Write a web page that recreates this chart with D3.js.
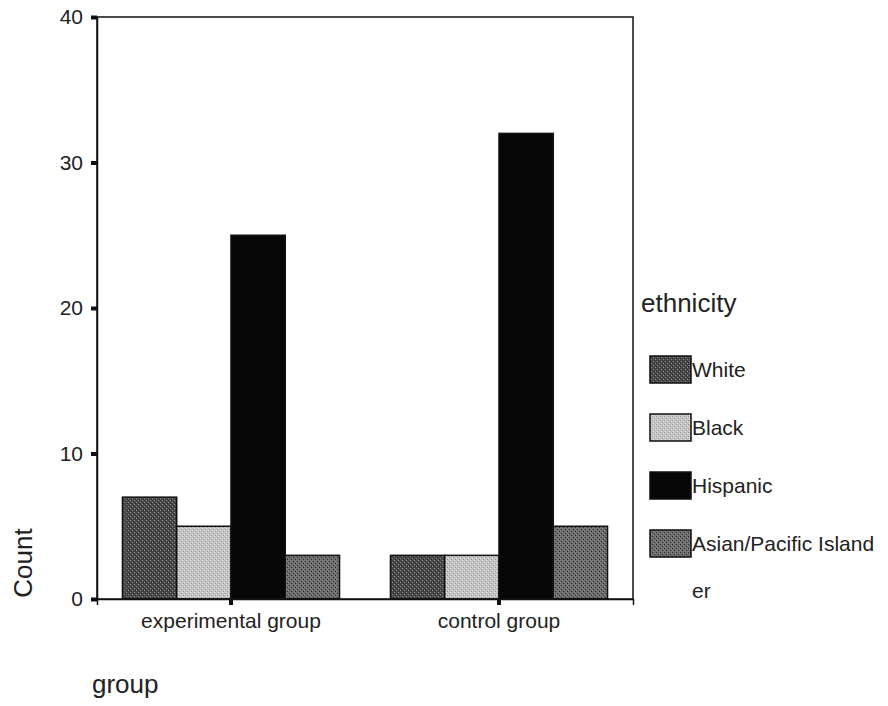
<!DOCTYPE html>
<html>
<head>
<meta charset="utf-8">
<script src="https://cdn.jsdelivr.net/npm/d3@7"></script>
<style>
  body { margin: 0; background: #fff; }
  svg { font-family: "Liberation Sans", Arial, sans-serif; }
</style>
</head>
<body>
<div id="vis"></div>
<script>
// chart size
const FRAME_WIDTH = 888;
const FRAME_HEIGHT = 706;
const MARGINS = {left: 97, right: 255, top: 17, bottom: 107};

const VIS_WIDTH = FRAME_WIDTH - MARGINS.left - MARGINS.right;
const VIS_HEIGHT = FRAME_HEIGHT - MARGINS.top - MARGINS.bottom;

// data
const GROUPS = ["experimental group", "control group"];
const ETHNICITIES = ["White", "Black", "Hispanic", "Asian/Pacific Islander"];
const WHITE = [7, 3];
const BLACK = [5, 3];
const HISPANIC = [25, 32];
const ASIAN = [3, 5];
const Y_TICKS = [0, 10, 20, 30, 40];

const SERIES = [WHITE, BLACK, HISPANIC, ASIAN];
const FILLS = ["#4a4a4a", "#c4c4c4", "#060606", "#6e6e6e"];

const FRAME = d3.select("#vis")
                .append("svg")
                  .attr("width", FRAME_WIDTH)
                  .attr("height", FRAME_HEIGHT);

// stipple textures like the old SPSS print
const defs = FRAME.append("defs");
FILLS.forEach((c, i) => {
  const p = defs.append("pattern")
      .attr("id", "pat" + i)
      .attr("width", 4).attr("height", 4)
      .attr("patternUnits", "userSpaceOnUse");
  p.append("rect").attr("width", 4).attr("height", 4).attr("fill", c);
  const dot = i === 1 ? "#999" : (i === 2 ? "#000" : "#2a2a2a");
  const lite = i === 1 ? "#e2e2e2" : (i === 2 ? "#111" : "#8a8a8a");
  p.append("rect").attr("x", 0).attr("y", 0).attr("width", 1).attr("height", 1).attr("fill", dot);
  p.append("rect").attr("x", 2).attr("y", 2).attr("width", 1).attr("height", 1).attr("fill", dot);
  p.append("rect").attr("x", 1).attr("y", 3).attr("width", 1).attr("height", 1).attr("fill", lite);
  p.append("rect").attr("x", 3).attr("y", 1).attr("width", 1).attr("height", 1).attr("fill", lite);
});

const X_SCALE = d3.scaleBand()
                  .domain(GROUPS)
                  .range([0, VIS_WIDTH])
                  .paddingInner(0.19)
                  .paddingOuter(0.095);

const X_SUB = d3.scaleBand()
                .domain(d3.range(ETHNICITIES.length))
                .range([0, X_SCALE.bandwidth()]);

const Y_SCALE = d3.scaleLinear()
                  .domain([0, 40])
                  .range([VIS_HEIGHT, 0]);

const G = FRAME.append("g")
    .attr("transform", "translate(" + MARGINS.left + "," + MARGINS.top + ")");

// bars
SERIES.forEach((vals, s) => {
  G.selectAll(".bar" + s)
    .data(vals)
    .enter()
    .append("rect")
      .attr("class", "bar" + s)
      .attr("x", (d, i) => X_SCALE(GROUPS[i]) + X_SUB(s))
      .attr("y", (d) => Y_SCALE(d))
      .attr("width", X_SUB.bandwidth())
      .attr("height", (d) => VIS_HEIGHT - Y_SCALE(d))
      .attr("fill", "url(#pat" + s + ")")
      .attr("stroke", "#111")
      .attr("stroke-width", 1.5);
});

// frame box
G.append("rect")
    .attr("width", VIS_WIDTH)
    .attr("height", VIS_HEIGHT)
    .attr("fill", "none")
    .attr("stroke", "#111")
    .attr("stroke-width", 1.5);

// y axis
const yAxis = G.append("g")
    .attr("font-size", 21)
    .attr("font-family", "Liberation Sans, Arial, sans-serif")
    .call(d3.axisLeft(Y_SCALE).tickValues(Y_TICKS).tickSize(6).tickPadding(8));
yAxis.attr("font-size", 21).attr("font-family", "Liberation Sans, Arial, sans-serif");
yAxis.select(".domain").attr("stroke", "#111").attr("stroke-width", 1.5);
yAxis.selectAll(".tick line").attr("stroke", "#111").attr("stroke-width", 4);
yAxis.selectAll(".tick text").attr("fill", "#222");

// x axis
const xAxis = G.append("g")
    .attr("transform", "translate(0," + VIS_HEIGHT + ")")
    .call(d3.axisBottom(X_SCALE).tickSize(6).tickPadding(8));
xAxis.attr("font-size", 21).attr("font-family", "Liberation Sans, Arial, sans-serif");
xAxis.select(".domain").attr("stroke", "#111").attr("stroke-width", 1.5);
xAxis.selectAll(".tick line").attr("stroke", "#111").attr("stroke-width", 4);
xAxis.selectAll(".tick text").attr("fill", "#222");

// axis titles
FRAME.append("text")
    .attr("transform", "translate(32,563) rotate(-90)")
    .attr("text-anchor", "middle")
    .attr("font-size", "26px")
    .attr("fill", "#222")
    .text("Count");

FRAME.append("text")
    .attr("x", 92)
    .attr("y", 693)
    .attr("font-size", "26px")
    .attr("fill", "#222")
    .text("group");

// legend
const LEG_X = 650;
const LEG_Y = 356;
const LEG_STEP = 58;

FRAME.append("text")
    .attr("x", 641)
    .attr("y", 312)
    .attr("font-size", "26px")
    .attr("fill", "#222")
    .text("ethnicity");

const legend = FRAME.selectAll(".legend")
    .data(ETHNICITIES)
    .enter()
    .append("g")
      .attr("class", "legend")
      .attr("transform", (d, i) => "translate(" + LEG_X + "," + (LEG_Y + i * LEG_STEP) + ")");

legend.append("rect")
    .attr("width", 41)
    .attr("height", 27)
    .attr("fill", (d, i) => "url(#pat" + i + ")")
    .attr("stroke", "#111")
    .attr("stroke-width", 1.5);

// labels wrap at the legend edge like the original
legend.append("text")
    .attr("x", 42)
    .attr("y", 21)
    .attr("font-size", "21px")
    .attr("fill", "#222")
    .each(function(d) {
      const t = d3.select(this);
      const first = d.length > 20 ? d.slice(0, 20) : d;
      t.append("tspan").text(first);
      if (d.length > 20) {
        t.append("tspan").attr("x", 42).attr("dy", 47).text(d.slice(20));
      }
    });
</script>
</body>
</html>
